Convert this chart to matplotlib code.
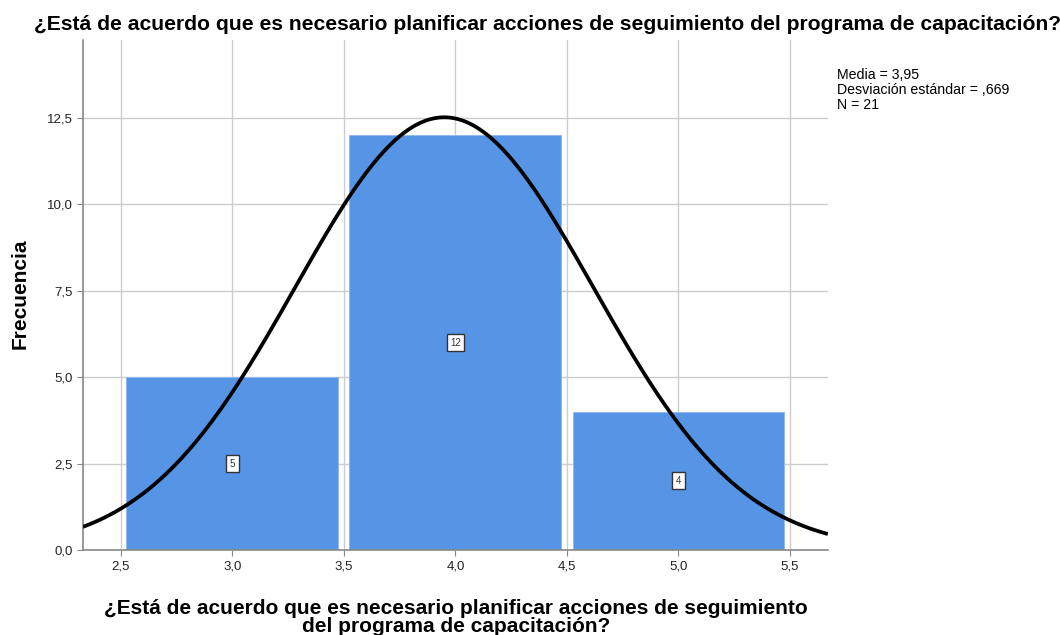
import numpy as np
import matplotlib
matplotlib.use("Agg")
import matplotlib.pyplot as plt

plt.rcParams['font.family'] = ['Liberation Sans', 'DejaVu Sans']

# data
bin_centers = [3.0, 4.0, 5.0]
counts = [5, 12, 4]
media = 3.95
desv = 0.669
n = 21
x_ticks = [2.5, 3.0, 3.5, 4.0, 4.5, 5.0, 5.5]
y_ticks = [0.0, 2.5, 5.0, 7.5, 10.0, 12.5]

titulo = "¿Está de acuerdo que es necesario planificar acciones de seguimiento del programa de capacitación?"
xlab = "¿Está de acuerdo que es necesario planificar acciones de seguimiento\ndel programa de capacitación?"

fig = plt.figure(figsize=(10.6, 6.35), dpi=100)
ax = fig.add_axes([0.0783, 0.134, 0.7027, 0.803])

ax.bar(bin_centers, counts, width=0.95, color='#5694e6', edgecolor='#8fb8ee',
       linewidth=0.6, zorder=2)

# curva normal ajustada (N * ancho de bin * densidad)
xs = np.linspace(2.33, 5.67, 400)
pdf = n * 1.0 / (desv * np.sqrt(2 * np.pi)) * np.exp(-0.5 * ((xs - media) / desv) ** 2)
ax.plot(xs, pdf, color='black', lw=2.7, zorder=4, solid_capstyle='butt')

for c, v in zip(bin_centers, counts):
    ax.text(c, v / 2, str(v), ha='center', va='center', fontsize=7, color='#333333',
            zorder=5, bbox=dict(boxstyle='square,pad=0.35', fc='white', ec='#333333', lw=1.0))

ax.set_xlim(2.33, 5.67)
ax.set_ylim(0, 14.76)
ax.set_xticks(x_ticks)
ax.set_yticks(y_ticks)
ax.set_xticklabels([f"{t:.1f}".replace('.', ',') for t in x_ticks])
ax.set_yticklabels([f"{t:.1f}".replace('.', ',') for t in y_ticks])
ax.tick_params(labelsize=9.5, length=4, color='#888888', labelcolor='#222222')
ax.grid(True, color='#cccccc', lw=1.0, zorder=0)
ax.set_axisbelow(True)
for s in ['top', 'right']:
    ax.spines[s].set_visible(False)
for s in ['left', 'bottom']:
    ax.spines[s].set_color('#888888')
    ax.spines[s].set_linewidth(1.2)

fig.text(0.517, 0.962, titulo, ha='center', va='center', fontsize=15.2, fontweight='bold')
fig.text(0.43, 0.028, xlab, ha='center', va='center', fontsize=15, fontweight='bold',
         linespacing=0.95)
fig.text(0.019, 0.538, "Frecuencia", rotation=90, ha='center', va='center',
         fontsize=15, fontweight='bold')
fig.text(0.79, 0.893, f"Media = {media:.2f}".replace('.', ',') + "\n"
         + "Desviación estándar = ,669\n" + f"N = {n}",
         ha='left', va='top', fontsize=10.2, linespacing=1.1)

fig.savefig("out.png", dpi=100)
